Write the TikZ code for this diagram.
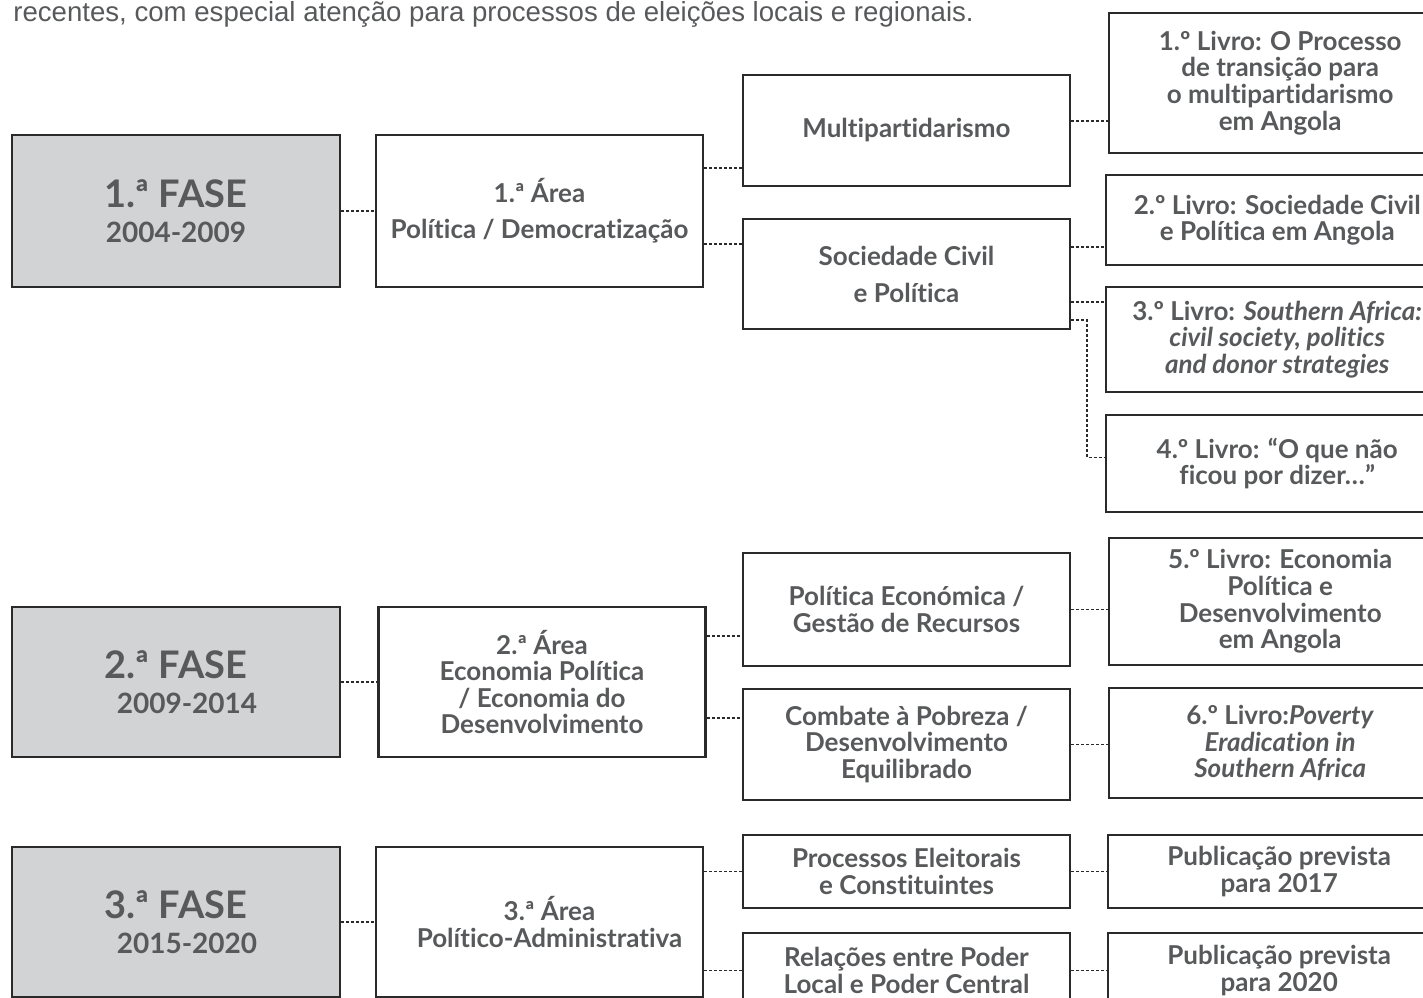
\documentclass[tikz,border=0pt]{standalone}
\usepackage{fontspec}
\setmainfont{Lato}[Ligatures=NoCommon]
\newfontfamily\notefont{Liberation Sans}
\definecolor{inkgray}{HTML}{58595B}
\definecolor{boxline}{HTML}{2A2A2A}
\definecolor{phasefill}{HTML}{D1D3D4}

\tikzset{
  box/.style={draw=boxline, line width=1.2pt, text=inkgray, align=center, inner sep=0pt,
    font=\bfseries\fontsize{13}{13.3}\selectfont},
  phase/.style={box, fill=phasefill, minimum width=164pt,
    font=\bfseries\fontsize{14}{17.5}\selectfont},
  area/.style={box, minimum width=163.5pt},
  topic/.style={box, minimum width=163.5pt},
  book/.style={box, minimum width=171pt, anchor=west},
  link/.style={draw=boxline, line width=0.6pt, dash pattern=on 1.5pt off 1pt},
}
\newcommand{\phasetitle}[1]{{\fontsize{19}{19}\selectfont #1}}

\begin{document}
\begin{tikzpicture}[x=0.5pt,y=-0.5pt]
  \clip (0,0) rectangle (1423,997);
  \node[anchor=base west, inner sep=0pt, text=inkgray, font=\notefont\fontsize{13.8}{14}\selectfont] (intro) at (13,21)
    {recentes, com especial atenção para processos de eleições locais e regionais.};

  % fases
  \node[phase, minimum height=76pt] (phaseA) at (176,211) {\phasetitle{1.ª FASE}\\2004-2009};
  \node[phase, minimum height=75pt] (phaseB) at (176,682) {\phasetitle{2.ª FASE}\\\hspace*{11pt}2009-2014};
  \node[phase, minimum height=75pt] (phaseC) at (176,922) {\phasetitle{3.ª FASE}\\\hspace*{11pt}2015-2020};

  % areas
  \node[area, minimum height=76pt, font=\bfseries\fontsize{13}{18}\selectfont] (areaA) at (539.5,211) {1.ª Área\\Política / Democratização};
  \node[area, minimum height=75pt] (areaB) at (542,682) {2.ª Área\\Economia Política\\/ Economia do\\Desenvolvimento};
  \node[area, minimum height=75pt] (areaC) at (539.5,922) {\hspace*{10pt}3.ª Área\\\hspace*{10pt}Político-Administrativa};

  % temas
  \node[topic, minimum height=55.5pt] (topicA) at (906.5,130.5) {Multipartidarismo};
  \node[topic, minimum height=55pt, font=\bfseries\fontsize{13}{18.5}\selectfont] (topicB) at (906.5,274) {Sociedade Civil\\e Política};
  \node[topic, minimum height=56.5pt] (topicC) at (906.5,609.5) {Política Económica /\\Gestão de Recursos};
  \node[topic, minimum height=55.5pt] (topicD) at (906.5,744.5) {Combate à Pobreza /\\Desenvolvimento\\Equilibrado};
  \node[topic, minimum height=36.5pt] (topicE) at (906.5,871.5) {Processos Eleitorais\\e Constituintes};
  \node[topic, minimum height=37.5pt] (topicF) at (906.5,970.5) {Relações entre Poder\\Local e Poder Central};

  % livros
  \node[book, minimum height=70pt] (bookA) at (1108,83) {1.º Livro: O Processo\\de transição para\\o multipartidarismo\\em Angola};
  \node[book, minimum height=45pt] (bookB) at (1105,220) {2.º Livro: Sociedade Civil\\e Política em Angola};
  \node[book, minimum height=52.5pt] (bookC) at (1105,339.5) {3.º Livro: \textit{Southern Africa:}\\\textit{civil society, politics}\\\textit{and donor strategies}};
  \node[book, minimum height=48.5pt] (bookD) at (1105,463.5) {4.º Livro: “O que não\\ficou por dizer…”};
  \node[book, minimum height=63.5pt] (bookE) at (1108,601.5) {5.º Livro: Economia\\Política e\\Desenvolvimento\\em Angola};
  \node[book, minimum height=55pt] (bookF) at (1108,743) {6.º Livro:\textit{Poverty}\\\textit{Eradication in}\\\textit{Southern Africa}};
  \node[book, minimum height=36.5pt] (bookG) at (1107,871.5) {Publicação prevista\\para 2017};
  \node[book, minimum height=37.5pt] (bookH) at (1107,970.5) {Publicação prevista\\para 2020};

  % ligacoes
  \draw[link] (phaseA) -- (areaA);
  \draw[link] ([yshift=21.5pt]areaA.east) -- ([yshift=21.5pt]areaA.east -| topicA.west);
  \draw[link] ([yshift=-16.5pt]areaA.east) -- ([yshift=-16.5pt]areaA.east -| topicB.west);
  \draw[link] ([yshift=4.75pt]topicA.east) -- ([yshift=4.75pt]topicA.east -| bookA.west);
  \draw[link] ([yshift=13.5pt]topicB.east) -- ([yshift=13.5pt]topicB.east -| bookB.west);
  \draw[link] ([yshift=-14pt]topicB.east) -- ([yshift=-14pt]topicB.east -| bookC.west);
  \draw[link] ([yshift=-23pt]topicB.east) -| ([xshift=-9pt,yshift=3pt]bookD.west) -- ([yshift=3pt]bookD.west);

  \draw[link] (phaseB) -- (areaB);
  \draw[link] ([yshift=23pt]areaB.east) -- ([yshift=23pt]areaB.east -| topicC.west);
  \draw[link] ([yshift=-18pt]areaB.east) -- ([yshift=-18pt]areaB.east -| topicD.west);
  \draw[link] (topicC.east) -- (topicC.east -| bookE.west);
  \draw[link] (topicD.east) -- (topicD.east -| bookF.west);

  \draw[link] (phaseC) -- (areaC);
  \draw[link] (topicE.west -| areaC.east) -- (topicE.west);
  \draw[link] (topicF.west -| areaC.east) -- (topicF.west);
  \draw[link] (topicE) -- (bookG);
  \draw[link] (topicF) -- (bookH);
\end{tikzpicture}
\end{document}
